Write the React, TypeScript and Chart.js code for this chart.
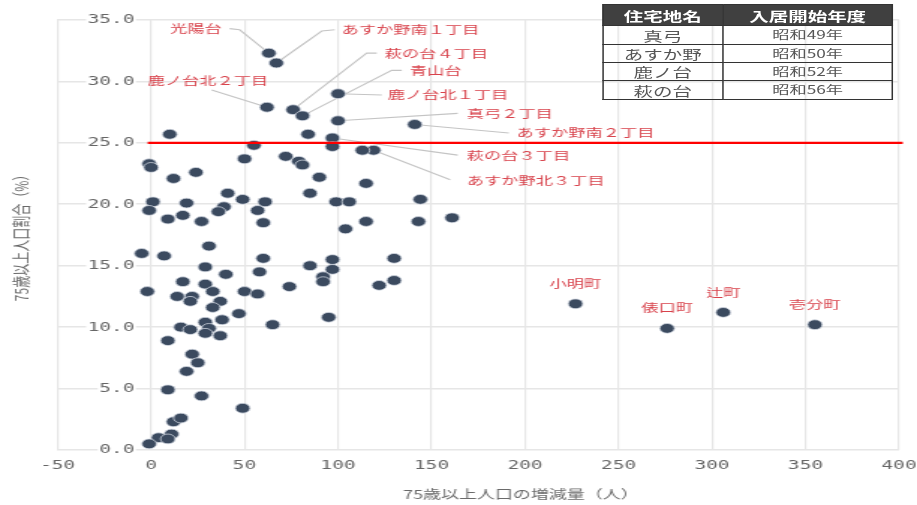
import { useEffect, useRef } from "react";
import { Chart, registerables } from "chart.js";

Chart.register(...registerables);

// ---- data ----
// 75歳以上人口の増減量（人）
const increase = [
  63, 67, 100, 62, 76, 81, 100, 141, 97, 119, 227, 276, 306, 355,
  10, 84, 55, 97, 113, -1, 0, 50, 72, 79, 81, 12, 24, 90, 115, 41, 85, 49, 61, 57, 60,
  1, -1, 19, 17, 9, 27, 39, 36, 99, 106, 144, 115, 143, 161, 104, 31, -5, 7, 60, 29, 40,
  58, 97, 85, 130, 97, 92, 92, 130, 122, 74, -2, 17, 29, 33, 14, 22, 50, 57, 21, 37, 33,
  47, 65, 16, 21, 29, 31, 29, 38, 37, 9, 22, 25, 19, 9, 27, 49, 12, 16, 11, 4, 9, -1, 95,
];
// 75歳以上人口割合（%）
const ratio = [
  32.3, 31.5, 29.0, 27.9, 27.7, 27.2, 26.8, 26.5, 25.4, 24.4, 11.9, 9.9, 11.2, 10.2,
  25.7, 25.7, 24.8, 24.7, 24.4, 23.3, 23.0, 23.7, 23.9, 23.5, 23.2, 22.1, 22.6, 22.2, 21.7, 20.9, 20.9, 20.4, 20.2, 19.5, 18.5,
  20.2, 19.5, 20.1, 19.1, 18.8, 18.6, 19.8, 19.4, 20.2, 20.2, 20.4, 18.6, 18.6, 18.9, 18.0, 16.6, 16.0, 15.8, 15.6, 14.9, 14.3,
  14.5, 15.5, 15.0, 15.6, 14.7, 14.1, 13.7, 13.8, 13.4, 13.3, 12.9, 13.7, 13.5, 12.9, 12.5, 12.5, 12.9, 12.7, 12.1, 12.1, 11.6,
  11.1, 10.2, 10.0, 9.8, 10.4, 9.9, 9.5, 10.6, 9.3, 8.9, 7.8, 7.1, 6.4, 4.9, 4.4, 3.4, 2.3, 2.6, 1.3, 1.0, 0.9, 0.5, 10.8,
];
// names of the first points (same order as the arrays above)
const calloutNames = [
  "光陽台", "あすか野南１丁目", "鹿ノ台北１丁目", "鹿ノ台北２丁目", "萩の台４丁目", "青山台",
  "真弓２丁目", "あすか野南２丁目", "萩の台３丁目", "あすか野北３丁目",
  "小明町", "俵口町", "辻町", "壱分町",
];
const thresholdRatio = 25;
const xMin = -50, xMax = 400, xStep = 50;
const yMin = 0, yMax = 35, yStep = 5;
const xTitle = "75歳以上人口の増減量（人）";
const yTitle = "75歳以上人口割合（%）";

const tableHeader = ["住宅地名", "入居開始年度"];
const tableEstates = ["真弓", "あすか野", "鹿ノ台", "萩の台"];
const tableYears = ["昭和49年", "昭和50年", "昭和52年", "昭和56年"];

// ---- annotation layout (label anchors in data units) ----
type Callout = { tx?: number; ty?: number; align?: CanvasTextAlign; path?: number[][]; above?: number };
const calloutLayout: Callout[] = [
  { tx: 37.8, ty: 34.3, align: "right", path: [[42.0, 34.3], [47.4, 34.2]] },
  { tx: 102.0, ty: 34.2, align: "left", path: [[98.2, 34.2], [91.3, 34.1]] },
  { tx: 126.6, ty: 28.9, align: "left", path: [[123.4, 28.9]] },
  { tx: -1.8, ty: 30.1, align: "left", path: [[32.4, 29.3]] },
  { tx: 124.9, ty: 32.3, align: "left", path: [[120.7, 32.3], [115.3, 32.3]] },
  { tx: 138.4, ty: 30.9, align: "left", path: [[134.1, 30.9], [128.7, 30.9]] },
  { tx: 168.8, ty: 27.4, align: "left", path: [[164.0, 27.4]] },
  { tx: 195.5, ty: 25.8, align: "left", path: [[191.3, 25.8]] },
  { tx: 168.8, ty: 24.0, align: "left", path: [[164.0, 24.0]] },
  { tx: 168.8, ty: 21.9, align: "left", path: [[160.0, 22.0]] },
  { above: 20 },
  { above: 21 },
  { above: 20 },
  { above: 20 },
];

const W = 612;
const H = 505;
const SX = 917 / W;
const LABEL_RED = "#d8434c";
const CJK = '"Noto Sans CJK JP", "Noto Sans", sans-serif';

const annotatePlugin = {
  id: "annotate",
  beforeDatasetsDraw(chart: any) {
    const { ctx, scales } = chart;
    const x = scales.x, y = scales.y;
    ctx.save();
    ctx.strokeStyle = "#c4c4c4";
    ctx.lineWidth = 1.1;
    calloutLayout.forEach((c, i) => {
      if (!c.path) return;
      ctx.beginPath();
      c.path.forEach(([lx, ly], k) => {
        const px = x.getPixelForValue(lx), py = y.getPixelForValue(ly);
        if (k === 0) ctx.moveTo(px, py); else ctx.lineTo(px, py);
      });
      ctx.lineTo(x.getPixelForValue(increase[i]), y.getPixelForValue(ratio[i]));
      ctx.stroke();
    });
    ctx.restore();
  },
  afterDatasetsDraw(chart: any) {
    const { ctx, scales } = chart;
    const x = scales.x, y = scales.y;
    ctx.save();
    ctx.fillStyle = LABEL_RED;
    ctx.font = `11.5px ${CJK}`;
    ctx.textBaseline = "middle";
    calloutLayout.forEach((c, i) => {
      const name = calloutNames[i];
      if (c.above !== undefined) {
        ctx.textAlign = "center";
        ctx.fillText(name, x.getPixelForValue(increase[i]), y.getPixelForValue(ratio[i]) - c.above);
      } else {
        ctx.textAlign = c.align || "left";
        ctx.fillText(name, x.getPixelForValue(c.tx), y.getPixelForValue(c.ty));
      }
    });
    ctx.restore();
  },
  afterDraw(chart: any) {
    const { ctx } = chart;
    ctx.save();
    ctx.fillStyle = "#6a6a6a";
    ctx.font = `12px ${CJK}`;
    ctx.textAlign = "center";
    ctx.textBaseline = "middle";
    ctx.fillText(xTitle, 347.7, 494);
    ctx.translate(14.7, 235);
    ctx.rotate(-Math.PI / 2);
    ctx.fillText(yTitle, 0, 0);
    ctx.restore();
  },
};

export default function App() {
  const ref = useRef<HTMLCanvasElement | null>(null);

  useEffect(() => {
    if (!ref.current) return;
    const points = increase.map((v, i) => ({ x: v, y: ratio[i] }));
    const tickFont = { family: '"DejaVu Sans Mono", monospace', size: 13 };
    const chart = new Chart(ref.current, {
      type: "scatter",
      data: {
        datasets: [
          {
            type: "line",
            label: "threshold",
            data: [
              { x: -1.8, y: thresholdRatio },
              { x: 402, y: thresholdRatio },
            ],
            borderColor: "#ff0000",
            borderWidth: 2.2,
            pointRadius: 0,
            clip: false as any,
            order: 0,
          } as any,
          {
            label: "住宅地",
            data: points,
            pointRadius: 4.9,
            pointHoverRadius: 4.9,
            backgroundColor: "#3b4a5f",
            borderColor: "rgba(214,219,228,0.95)",
            borderWidth: 0.8,
            order: 1,
          },
        ],
      },
      options: {
        animation: false,
        responsive: false,
        events: [],
        layout: { padding: { left: 38.4, right: 12, top: 20, bottom: 30 } },
        plugins: { legend: { display: false }, tooltip: { enabled: false } },
        scales: {
          x: {
            type: "linear",
            position: "bottom",
            min: xMin,
            max: xMax,
            afterFit: (s: any) => {
              s.height = 25;
              s.paddingLeft = 0;
              s.paddingRight = 0;
            },
            ticks: { stepSize: xStep, color: "#666", font: tickFont, padding: 8, maxRotation: 0 },
            grid: { color: "#e6e6e6", lineWidth: 1.2, drawTicks: false },
            border: { display: false },
          },
          y: {
            type: "linear",
            position: "left",
            min: yMin,
            max: yMax,
            afterFit: (s: any) => {
              s.width = 0;
              s.paddingTop = 0;
              s.paddingBottom = 0;
            },
            ticks: {
              stepSize: yStep,
              color: "#666",
              font: tickFont,
              mirror: true,
              crossAlign: "far",
              padding: 20,
              callback: (v: any) => Number(v).toFixed(1),
              showLabelBackdrop: true,
              backdropColor: "#ffffff",
              backdropPadding: { x: 1, y: 0 },
            } as any,
            grid: { color: "#e6e6e6", lineWidth: 1.6, drawTicks: false },
            border: { display: false },
          },
        },
      },
      plugins: [annotatePlugin],
    });
    return () => chart.destroy();
  }, []);

  const cellBorder = "1px solid #333";
  const rowH = [21, 19, 18, 18, 19];
  return (
    <div
      style={{
        position: "fixed",
        left: 0,
        top: 0,
        width: W,
        height: H,
        transform: `scaleX(${SX})`,
        transformOrigin: "0 0",
        background: "#fff",
      }}
    >
      <canvas ref={ref} width={W} height={H} style={{ display: "block", width: W, height: H }} />
      <table
        style={{
          position: "absolute",
          left: 401.8,
          top: 4,
          width: 193.5,
          borderCollapse: "collapse",
          fontFamily: CJK,
          tableLayout: "fixed",
          border: "1px solid #222",
        }}
      >
        <colgroup>
          <col style={{ width: 80 }} />
          <col style={{ width: 113.5 }} />
        </colgroup>
        <thead>
          <tr style={{ height: rowH[0] }}>
            {tableHeader.map((h) => (
              <th
                key={h}
                style={{
                  background: "#404040",
                  color: "#fff",
                  fontSize: 13,
                  fontWeight: "bold",
                  border: cellBorder,
                  padding: 0,
                  lineHeight: "1",
                  textAlign: "center",
                }}
              >
                {h}
              </th>
            ))}
          </tr>
        </thead>
        <tbody>
          {tableEstates.map((e, i) => (
            <tr key={e} style={{ height: rowH[i + 1] }}>
              <td style={{ border: cellBorder, padding: 0, lineHeight: "1", fontSize: 13, color: "#555", textAlign: "center" }}>{e}</td>
              <td style={{ border: cellBorder, padding: 0, lineHeight: "1", fontSize: 11.5, color: "#555", textAlign: "center" }}>{tableYears[i]}</td>
            </tr>
          ))}
        </tbody>
      </table>
    </div>
  );
}
